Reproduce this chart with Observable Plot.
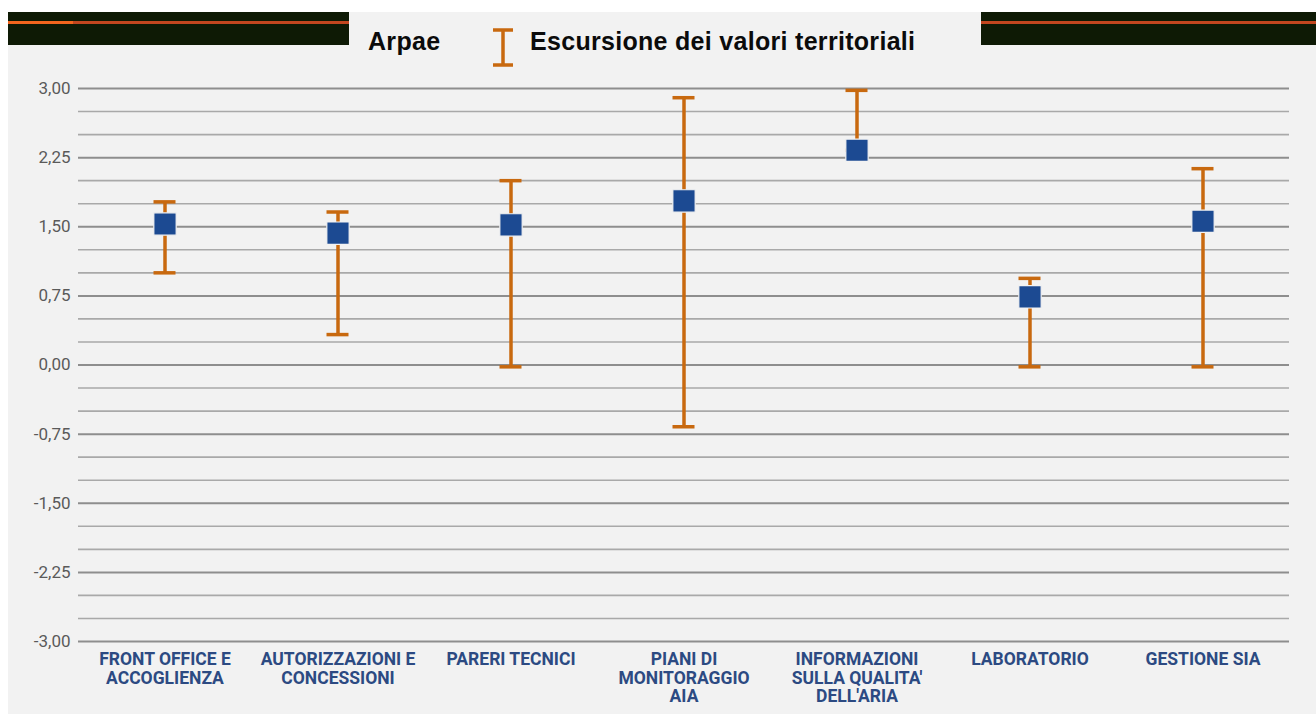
<!DOCTYPE html>
<html>
<head>
<meta charset="utf-8">
<script src="https://cdn.jsdelivr.net/npm/d3@7"></script>
<script src="https://cdn.jsdelivr.net/npm/@observablehq/plot@0.6"></script>
<style>
  html, body { margin: 0; padding: 0; background: #ffffff; }
  body { width: 1316px; height: 718px; position: relative; overflow: hidden; }
  #panel { position: absolute; left: 8px; top: 12px; right: 0; bottom: 4px; background: #f2f2f2; }
  #chart { position: absolute; left: 0; top: 0; }
  .bar { position: absolute; top: 12px; height: 33px; background: #0e1a05; z-index: 3; }
  .bar .stripe { position: absolute; left: 0; right: 0; top: 9px; height: 2.5px; background: #c2461f; }
  .bar .hi { position: absolute; left: 0; top: 9px; width: 65px; height: 2.5px; background: #f2651e; }
  #legend { position: absolute; top: 0; left: 0; z-index: 4; font-family: "Liberation Sans", Arial, sans-serif; font-weight: bold; font-size: 25px; letter-spacing: 0.3px; color: #0b0b0b; }
  #legend .item { position: absolute; top: 27px; white-space: nowrap; }
  #legend svg { position: absolute; }
</style>
</head>
<body>
<div id="panel"></div>
<div class="bar" style="left:8px; width:341px;"><div class="stripe"></div><div class="hi"></div></div>
<div class="bar" style="left:981px; width:335px;"><div class="stripe"></div></div>
<div id="legend">
  <div class="item" style="left:368px;">Arpae</div>
  <svg style="left:490px; top:27px;" width="26" height="42">
    <line x1="3" y1="3" x2="23" y2="3" stroke="#c8690f" stroke-width="3.5"/>
    <line x1="13" y1="3" x2="13" y2="38" stroke="#c8690f" stroke-width="3.5"/>
    <line x1="3" y1="38" x2="23" y2="38" stroke="#c8690f" stroke-width="3.5"/>
  </svg>
  <div class="item" style="left:530px;">Escursione dei valori territoriali</div>
</div>
<div id="chart"></div>
<script>
const categories = [
  "FRONT OFFICE E\nACCOGLIENZA",
  "AUTORIZZAZIONI E\nCONCESSIONI",
  "PARERI TECNICI",
  "PIANI DI\nMONITORAGGIO\nAIA",
  "INFORMAZIONI\nSULLA QUALITA'\nDELL'ARIA",
  "LABORATORIO",
  "GESTIONE SIA"
];
const arpae   = [1.53, 1.43, 1.52, 1.78, 2.33, 0.74, 1.56];
const minVals = [1.00, 0.33, -0.02, -0.67, 2.33, -0.02, -0.02];
const maxVals = [1.77, 1.66, 2.00, 2.90, 2.98, 0.94, 2.13];

const yTicks = [-3, -2.25, -1.5, -0.75, 0, 0.75, 1.5, 2.25, 3];
const minorTicks = [-2.75, -2.5, -2, -1.75, -1.25, -1, -0.5, -0.25, 0.25, 0.5, 1, 1.25, 1.75, 2, 2.5, 2.75];

const data = categories.map((c, i) => ({cat: c, arpae: arpae[i], min: minVals[i], max: maxVals[i]}));
const fmt = d => d3.format(".2f")(d).replace(".", ",").replace("−", "-");

const W = 1316, H = 718;
const mL = 78, mR = 27;
const bandW = (W - mL - mR) / categories.length;
const capHalf = 11;
const inset = bandW / 2 - capHalf;
const orange = "#c8690f";

const chart = Plot.plot({
  width: W,
  height: H,
  marginTop: 88,
  marginBottom: 77,
  marginLeft: mL,
  marginRight: mR,
  style: { background: "transparent", overflow: "visible" },
  x: { domain: categories, padding: 0, label: null, axis: null },
  y: { domain: [-3, 3], label: null, axis: null },
  marks: [
    Plot.ruleY(minorTicks, { stroke: "#a9a9a9", strokeWidth: 1.6 }),
    Plot.ruleY(yTicks, { stroke: "#8e8e8e", strokeWidth: 2 }),
    Plot.axisY({
      ticks: yTicks, tickSize: 0, tickPadding: 8, tickFormat: fmt,
      fontSize: 17, fill: "#5a5a5a", fontFamily: "Roboto, 'Liberation Sans', sans-serif"
    }),
    Plot.axisX({
      tickSize: 0, tickPadding: 11, lineHeight: 1.04,
      fontSize: 17.5, fontWeight: "bold", fill: "#2c4a82",
      fontFamily: "Roboto, 'Liberation Sans', sans-serif"
    }),
    Plot.ruleX(data, { x: "cat", y1: "min", y2: "max", stroke: orange, strokeWidth: 3.5 }),
    Plot.tickY(data, { x: "cat", y: "max", stroke: orange, strokeWidth: 3.5, insetLeft: inset, insetRight: inset }),
    Plot.tickY(data, { x: "cat", y: "min", stroke: orange, strokeWidth: 3.5, insetLeft: inset, insetRight: inset }),
    Plot.dot(data, {
      x: "cat", y: "arpae", symbol: "square", r: Math.sqrt(500 / Math.PI),
      fill: "#1c4a92", stroke: "#f2f2f2", strokeWidth: 1.2
    })
  ]
});
document.getElementById("chart").appendChild(chart);
</script>
</body>
</html>
